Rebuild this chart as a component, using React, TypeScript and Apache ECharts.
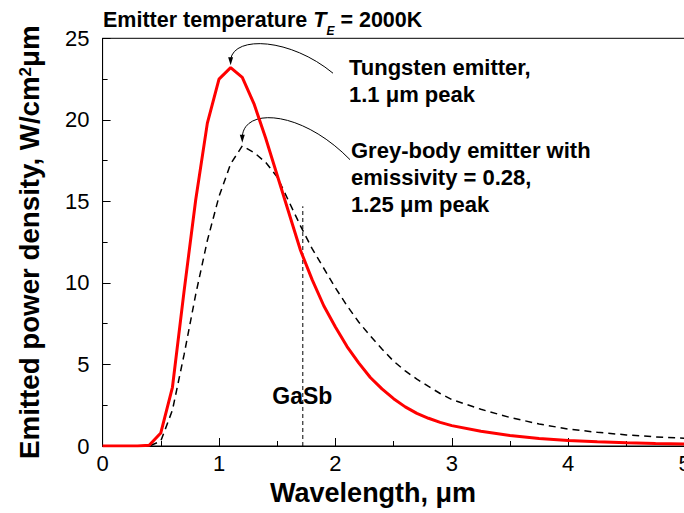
import React, { useEffect, useRef } from "react";
import * as echarts from "echarts";

// Wavelength samples (µm)
const wavelength = [
  0, 0.1, 0.2, 0.3, 0.4, 0.5, 0.6, 0.7, 0.8, 0.9, 1.0, 1.1, 1.2, 1.3, 1.4, 1.5,
  1.6, 1.7, 1.8, 1.9, 2.0, 2.1, 2.2, 2.3, 2.4, 2.5, 2.6, 2.7, 2.8, 2.9, 3.0,
  3.25, 3.5, 3.75, 4.0, 4.25, 4.5, 4.75, 5.0,
];

// Tungsten emitter (W/cm²µm)
const tungsten = [
  0, 0, 0, 0, 0.05, 0.8, 3.6, 9.5, 15.1, 19.8, 22.5, 23.2, 22.6, 21.0, 18.9,
  16.6, 14.3, 12.0, 10.2, 8.6, 7.3, 6.1, 5.1, 4.2, 3.5, 2.9, 2.4, 2.0, 1.7,
  1.45, 1.25, 0.9, 0.64, 0.46, 0.34, 0.26, 0.2, 0.15, 0.12,
];

// Grey-body emitter, emissivity 0.28 (W/cm²µm)
const greyBody = [
  0, 0, 0, 0, 0, 0.3, 2.2, 5.6, 9.3, 12.6, 15.3, 17.3, 18.4, 18.0, 17.4, 16.5,
  15.0, 13.5, 12.1, 10.9, 9.7, 8.6, 7.6, 6.75, 5.95, 5.2, 4.6, 4.1, 3.65, 3.22,
  2.85, 2.25, 1.75, 1.35, 1.04, 0.84, 0.68, 0.56, 0.47,
];

// GaSb band edge marker
const gasbEdge = 1.72;
const gasbTop = 14.7;

// Annotated peaks
const tungstenPeak = [1.1, 23.35];
const greyPeak = [1.2, 18.6];

const FONT = "'Liberation Sans', Arial, Helvetica, sans-serif";

export default function App() {
  const ref = useRef<HTMLDivElement>(null);

  useEffect(() => {
    const chart = echarts.init(ref.current!, null, { renderer: "svg" });
    const tData = wavelength.map((x, i) => [x, tungsten[i]]);
    const gData = wavelength.map((x, i) => [x, greyBody[i]]);

    chart.setOption({
      animation: false,
      backgroundColor: "#fff",
      grid: {
        left: 102.6,
        width: 582,
        top: 38.3,
        height: 407.7,
        show: true,
        borderColor: "#000",
        borderWidth: 1,
        backgroundColor: "transparent",
        containLabel: false,
        outerBoundsMode: "none",
      },
      xAxis: {
        type: "value",
        min: 0,
        max: 5,
        interval: 1,
        axisLine: { show: true, lineStyle: { color: "#000", width: 1 } },
        axisTick: { show: true, inside: true, length: 8, lineStyle: { color: "#000" } },
        minorTick: { show: true, splitNumber: 2, length: 5, lineStyle: { color: "#000" } },
        splitLine: { show: false },
        axisLabel: { fontSize: 22, fontFamily: FONT, color: "#000", margin: 6 },
        name: "Wavelength, μm",
        nameLocation: "middle",
        nameGap: 33,
        nameTextStyle: {
          fontSize: 27,
          fontWeight: "bold",
          fontFamily: FONT,
          color: "#000",
          padding: [0, 41, 0, 0],
        },
      },
      yAxis: {
        type: "value",
        min: 0,
        max: 25,
        interval: 5,
        axisLine: { show: true, lineStyle: { color: "#000", width: 1 } },
        axisTick: { show: true, inside: true, length: 8, lineStyle: { color: "#000" } },
        minorTick: { show: true, splitNumber: 2, length: 5, lineStyle: { color: "#000" } },
        splitLine: { show: false },
        axisLabel: { fontSize: 22, fontFamily: FONT, color: "#000", margin: 13 },
        name: "Emitted power density, W/cm{sup|2}μm",
        nameLocation: "middle",
        nameGap: 57,
        nameRotate: 90,
        nameTextStyle: {
          fontSize: 27.7,
          fontWeight: "bold",
          fontFamily: FONT,
          color: "#000",
          lineHeight: 32,
          rich: {
            sup: {
              fontSize: 17,
              fontWeight: "bold",
              fontFamily: FONT,
              color: "#000",
              lineHeight: 17,
              padding: [3, 0, 0, 0],
              verticalAlign: "top",
            },
          },
        },
      },
      series: [
        {
          name: "Tungsten emitter",
          type: "line",
          data: tData,
          showSymbol: false,
          symbol: "none",
          lineStyle: { color: "#ff0000", width: 3 },
          z: 3,
        },
        {
          name: "Grey-body emitter",
          type: "line",
          data: gData,
          showSymbol: false,
          symbol: "none",
          lineStyle: { color: "#000", width: 1.5, type: [7, 5] },
          z: 2,
        },
        {
          name: "GaSb",
          type: "line",
          data: [
            [gasbEdge, 0],
            [gasbEdge, gasbTop],
          ],
          showSymbol: false,
          symbol: "none",
          lineStyle: { color: "#000", width: 1, type: [4, 3] },
          z: 1,
        },
      ],
    });

    const tp = chart.convertToPixel({ gridIndex: 0 }, tungstenPeak) as number[];
    const gp = chart.convertToPixel({ gridIndex: 0 }, greyPeak) as number[];
    const gs = chart.convertToPixel({ gridIndex: 0 }, [gasbEdge, 3]) as number[];
    const [tx, ty] = tp;
    const [gx, gy] = gp;

    const boldText = (x: number, y: number, text: string, size: number, lh: number, align = "left") => ({
      type: "text",
      x,
      y,
      silent: true,
      style: {
        text,
        fontSize: size,
        fontWeight: "bold",
        fontFamily: FONT,
        fill: "#000",
        lineHeight: lh,
        align,
        verticalAlign: "top",
      },
    });

    chart.setOption({
      graphic: [
        {
          type: "text",
          x: 103,
          y: 9,
          silent: true,
          style: {
            text: "{a|Emitter temperature }{i|T}{s|E}{a| = 2000K}",
            align: "left",
            verticalAlign: "top",
            rich: {
              a: { fontSize: 21.5, fontWeight: "bold", fontFamily: FONT, fill: "#000", lineHeight: 22, verticalAlign: "top" },
              i: { fontSize: 21.5, fontWeight: "bold", fontStyle: "italic", fontFamily: FONT, fill: "#000", lineHeight: 22, verticalAlign: "top" },
              s: { fontSize: 12, fontWeight: "bold", fontStyle: "italic", fontFamily: FONT, fill: "#000", lineHeight: 12, padding: [16, 0, 0, 0], verticalAlign: "top" },
            },
          },
        },
        boldText(349, 54, "Tungsten emitter,\n1.1 μm peak", 22, 27),
        boldText(351, 137, "Grey-body emitter with\nemissivity = 0.28,\n1.25 μm peak", 22, 27),
        boldText(gs[0] - 0.5, gs[1] - 14, "GaSb", 23, 26, "center"),
        {
          type: "bezierCurve",
          silent: true,
          shape: {
            x1: 333, y1: ty + 8,
            cpx1: tx + 60, cpy1: ty - 27,
            cpx2: tx + 4, cpy2: ty - 30,
            x2: tx, y2: ty - 6,
          },
          style: { stroke: "#000", lineWidth: 1, fill: "none" },
        },
        {
          type: "polygon",
          silent: true,
          shape: { points: [[tx - 2.5, ty - 8], [tx + 2.5, ty - 8], [tx, ty]] },
          style: { fill: "#000" },
        },
        {
          type: "bezierCurve",
          silent: true,
          shape: {
            x1: 350, y1: gy + 17,
            cpx1: gx + 60, cpy1: gy - 32,
            cpx2: gx + 2, cpy2: gy - 36,
            x2: gx, y2: gy - 6,
          },
          style: { stroke: "#000", lineWidth: 1, fill: "none" },
        },
        {
          type: "polygon",
          silent: true,
          shape: { points: [[gx - 2.5, gy - 8], [gx + 2.5, gy - 8], [gx, gy]] },
          style: { fill: "#000" },
        },
      ],
    });

    return () => chart.dispose();
  }, []);

  return (
    <div
      ref={ref}
      style={{ position: "fixed", left: 0, top: 0, width: 684, height: 513, background: "#fff" }}
    />
  );
}
